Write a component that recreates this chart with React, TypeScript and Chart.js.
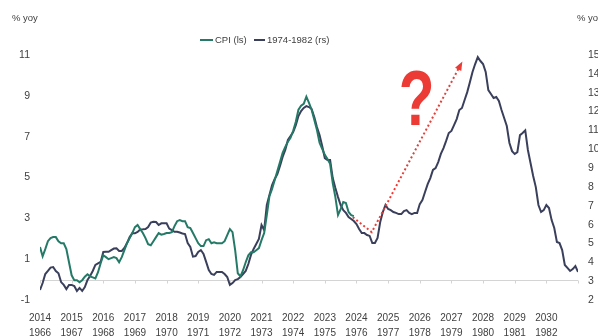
import React, { useEffect, useRef } from 'react';
import { Chart, registerables } from 'chart.js';
Chart.register(...registerables);

const FONT = "'Liberation Sans', Arial, sans-serif";

// x = months since Jan 2014 (Jan 1966 for the historical series)
const yearLabels = ['2014','2015','2016','2017','2018','2019','2020','2021','2022','2023','2024','2025','2026','2027','2028','2029','2030'];
const histYearLabels = ['1966','1967','1968','1969','1970','1971','1972','1973','1974','1975','1976','1977','1978','1979','1980','1981','1982'];

// CPI % yoy (left scale), monthly from Jan 2014
const cpiValues = [
  1.59,1.14,1.49,1.88,2.03,2.08,2.08,1.88,1.78,1.78,
  1.49,0.85,0.21,-0.03,-0.03,-0.13,-0.03,0.14,0.26,0.16,
  0.11,0.06,0.36,0.80,1.19,1.10,1.00,1.05,1.10,1.05,
  0.85,1.10,1.44,1.78,2.03,2.28,2.57,2.67,2.47,2.28,
  2.03,1.73,1.68,1.88,2.08,2.28,2.20,2.23,2.28,2.28,
  2.32,2.62,2.86,2.91,2.86,2.86,2.57,2.52,2.28,2.03,
  1.78,1.64,1.64,1.93,1.98,1.78,1.83,1.78,1.78,1.78,
  1.88,2.18,2.47,2.32,1.44,0.31,0.16,0.46,0.85,1.19,
  1.34,1.34,1.44,1.54,1.93,2.28,3.16,4.09,4.44,4.88,
  5.32,5.76,6.21,6.50,6.75,6.94,7.29,7.73,8.32,8.52,
  8.61,8.96,8.66,8.32,7.83,7.34,6.70,6.40,6.11,5.91,
  5.67,4.73,4.04,3.16,3.45,3.80,3.75,3.31,3.16,3.11
];

// 1966-1982 % yoy (right scale), monthly from Jan 1966
const histValues = [
  2.53,2.90,3.38,3.54,3.72,3.75,3.54,3.42,2.95,2.80,
  2.58,2.80,2.80,2.74,2.48,2.64,2.48,2.69,3.06,3.27,
  3.54,3.86,3.94,4.02,4.55,4.56,4.56,4.65,4.73,4.74,
  4.60,4.60,4.76,5.02,5.34,5.54,5.54,5.61,5.74,5.75,
  5.77,5.87,6.11,6.15,6.14,5.98,6.07,6.07,6.07,5.79,
  5.71,5.62,5.62,5.58,5.53,5.50,5.02,4.81,4.30,4.33,
  4.55,4.65,4.44,4.02,3.59,3.38,3.33,3.49,3.49,3.49,
  3.38,3.22,2.80,2.90,3.06,3.11,3.22,3.38,3.54,3.91,
  4.39,4.71,4.97,5.24,5.98,5.71,7.04,7.57,8.10,8.42,
  8.68,9.11,9.59,9.96,10.49,10.70,10.91,11.28,11.76,12.03,
  12.19,12.29,12.24,12.13,11.71,11.18,10.75,10.17,9.53,9.43,
  9.43,8.47,7.94,7.46,7.04,6.77,6.62,6.40,6.30,6.19,
  6.03,5.77,5.55,5.55,5.45,5.40,5.02,5.02,5.29,6.14,
  6.67,7.04,6.83,6.77,6.67,6.62,6.56,6.56,6.72,6.77,
  6.62,6.56,6.62,6.62,7.09,7.30,7.73,8.15,8.47,8.90,
  9.00,9.32,9.75,10.06,10.44,10.86,10.97,11.28,11.60,12.08,
  12.19,12.61,13.03,13.56,14.10,14.52,14.89,14.68,14.52,14.10,
  13.14,12.93,12.72,12.77,12.56,12.08,11.66,11.23,10.33,9.90,
  9.75,9.85,10.75,10.86,11.00,9.96,9.27,8.58,7.99,7.04,
  6.67,6.77,7.04,6.88,6.24,5.82,5.08,5.02,4.65,3.86,
  3.70,3.54,3.64,3.80,3.49
];

// red dotted scenario arrow (left scale)
const arrowMonths = [118.6, 125.8, 159.8];
const arrowValues = [3.06, 2.32, 10.6];

// question mark anchor (left scale)
const qMonth = 142.8;
const qValue = 7.58;

const GREEN = '#247a66';
const DARK = '#3a3f5c';
const RED = '#ec3b35';
const TEXT = '#404040';

const overlay = {
  id: 'overlay',
  beforeDatasetsDraw(chart: any) {
    const { ctx, scales } = chart;
    const xs = scales.x, ys = scales.y;
    const y0 = Math.round(ys.getPixelForValue(0)) + 0.5;
    ctx.save();
    ctx.strokeStyle = '#d4d4d4';
    ctx.lineWidth = 1;
    ctx.beginPath();
    ctx.moveTo(xs.getPixelForValue(0), y0);
    ctx.lineTo(xs.getPixelForValue(204), y0);
    for (let k = 0; k <= 17; k++) {
      const x = Math.round(xs.getPixelForValue(k * 12)) + 0.5;
      ctx.moveTo(x, y0);
      ctx.lineTo(x, y0 + 3);
    }
    ctx.stroke();
    ctx.restore();
  },
  afterDatasetsDraw(chart: any) {
    const { ctx, scales } = chart;
    const xs = scales.x, ys = scales.y;
    ctx.save();
    // arrow head
    const n = arrowMonths.length;
    const x1 = xs.getPixelForValue(arrowMonths[n - 2]);
    const y1 = ys.getPixelForValue(arrowValues[n - 2]);
    const x2 = xs.getPixelForValue(arrowMonths[n - 1]);
    const y2 = ys.getPixelForValue(arrowValues[n - 1]);
    const a = Math.atan2(y2 - y1, x2 - x1);
    ctx.fillStyle = RED;
    ctx.beginPath();
    ctx.moveTo(x2 + Math.cos(a) * 2, y2 + Math.sin(a) * 2);
    ctx.lineTo(x2 - Math.cos(a) * 7 - Math.sin(a) * 3.5, y2 - Math.sin(a) * 7 + Math.cos(a) * 3.5);
    ctx.lineTo(x2 - Math.cos(a) * 7 + Math.sin(a) * 3.5, y2 - Math.sin(a) * 7 - Math.cos(a) * 3.5);
    ctx.closePath();
    ctx.fill();
    // question mark
    const qx = xs.getPixelForValue(qMonth);
    const qy = ys.getPixelForValue(qValue);
    ctx.translate(qx, qy);
    ctx.scale(0.75, 1);
    ctx.font = "bold 78px 'Liberation Sans', Arial, sans-serif";
    ctx.textAlign = 'center';
    ctx.textBaseline = 'alphabetic';
    ctx.fillText('?', 0, 0);
    ctx.restore();
  },
  afterDraw(chart: any) {
    const { ctx } = chart;
    ctx.save();
    ctx.font = `9.5px ${FONT}`;
    ctx.fillStyle = TEXT;
    ctx.textBaseline = 'middle';
    ctx.textAlign = 'left';
    ctx.fillText('% yoy', 12, 18);
    ctx.fillText('% yoy', 577, 18);
    // legend
    ctx.lineWidth = 2;
    ctx.strokeStyle = GREEN;
    ctx.beginPath();
    ctx.moveTo(200, 40);
    ctx.lineTo(213, 40);
    ctx.stroke();
    ctx.fillText('CPI (ls)', 215, 40);
    ctx.strokeStyle = DARK;
    ctx.beginPath();
    ctx.moveTo(254, 40);
    ctx.lineTo(265, 40);
    ctx.stroke();
    ctx.fillText('1974-1982 (rs)', 267, 40);
    ctx.restore();
  },
};

export default function App() {
  const ref = useRef<HTMLCanvasElement>(null);
  useEffect(() => {
    document.body.style.margin = '0';
    const chart = new Chart(ref.current!, {
      type: 'line',
      data: {
        datasets: [
          {
            label: 'arrow',
            data: arrowMonths.map((m, i) => ({ x: m, y: arrowValues[i] })),
            yAxisID: 'y',
            borderColor: RED,
            borderWidth: 2,
            borderDash: [2, 2.5],
            pointRadius: 0,
            fill: false,
            order: 0,
          },
          {
            label: 'CPI (ls)',
            data: cpiValues.map((v, i) => ({ x: i, y: v })),
            yAxisID: 'y',
            borderColor: GREEN,
            borderWidth: 2,
            pointRadius: 0,
            fill: false,
            order: 1,
          },
          {
            label: '1974-1982 (rs)',
            data: histValues.map((v, i) => ({ x: i, y: v })),
            yAxisID: 'y1',
            borderColor: DARK,
            borderWidth: 2,
            pointRadius: 0,
            fill: false,
            order: 2,
          },
        ],
      },
      options: {
        animation: false,
        responsive: false,
        maintainAspectRatio: false,
        layout: { padding: { top: 55, left: 0, right: 0, bottom: 0 } },
        plugins: { legend: { display: false }, tooltip: { enabled: false } },
        scales: {
          x: {
            type: 'linear',
            min: 0,
            max: 204,
            grid: { display: false, drawTicks: false },
            border: { display: false },
            ticks: {
              stepSize: 12,
              autoSkip: false,
              maxRotation: 0,
              padding: 11,
              color: TEXT,
              font: { family: FONT, size: 10, lineHeight: 1.5 },
              callback: (v: any) => {
                const i = Math.round(Number(v) / 12);
                if (i < 0 || i >= yearLabels.length) return '';
                return [yearLabels[i], histYearLabels[i]];
              },
            },
            afterFit: (s: any) => { s.height = 36; },
          },
          y: {
            position: 'left',
            min: -1,
            max: 11,
            grid: { display: false, drawTicks: false },
            border: { display: false },
            ticks: { stepSize: 2, padding: 10, color: TEXT, font: { family: FONT, size: 10.5 } },
            afterFit: (s: any) => { s.width = 40; },
          },
          y1: {
            position: 'right',
            min: 2,
            max: 15,
            grid: { display: false, drawTicks: false },
            border: { display: false },
            ticks: { stepSize: 1, padding: 10, color: TEXT, font: { family: FONT, size: 10.5 } },
            afterFit: (s: any) => { s.width = 20; },
          },
        },
      },
      plugins: [overlay],
    } as any);
    return () => chart.destroy();
  }, []);
  return (
    <div style={{ width: 598, height: 336 }}>
      <canvas ref={ref} width={598} height={336} style={{ display: 'block' }} />
    </div>
  );
}
